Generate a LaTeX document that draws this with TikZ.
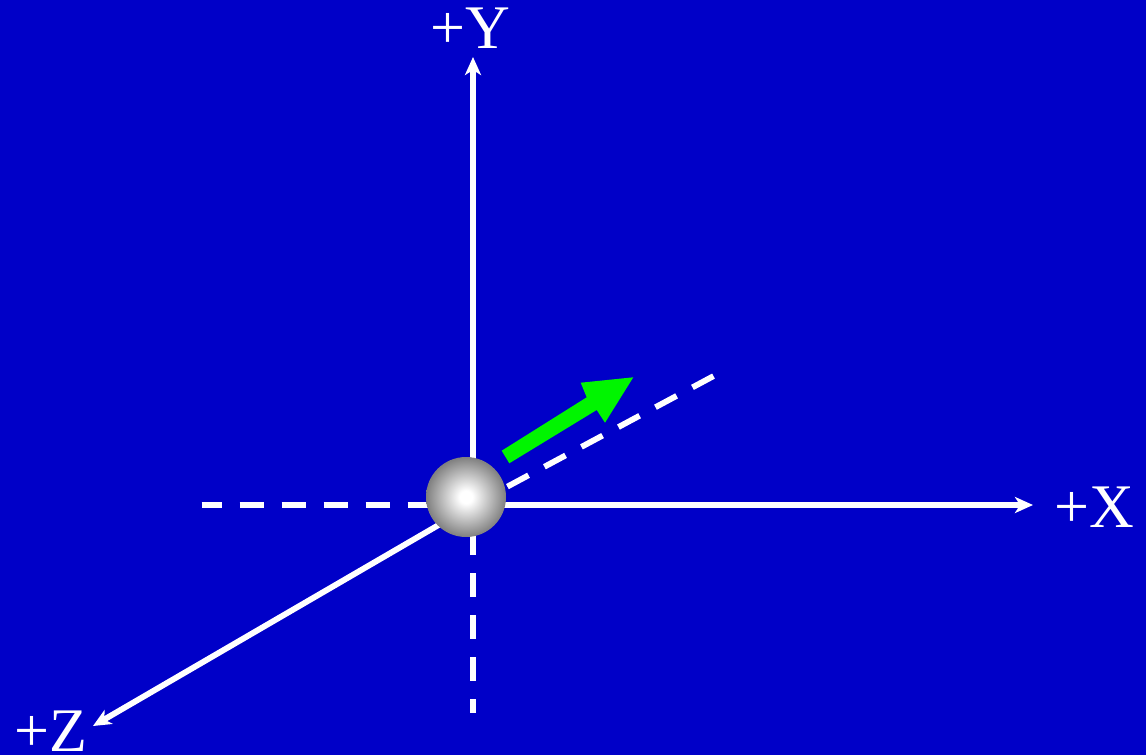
\documentclass[tikz,border=0pt]{standalone}
\usepackage{fontspec}
\setmainfont{Liberation Serif}
\usetikzlibrary{arrows.meta}
\definecolor{bgblue}{RGB}{0,0,200}
\definecolor{arrowgreen}{RGB}{0,245,0}
\pgfdeclareradialshading{sphereshade}{\pgfpoint{0bp}{0bp}}{color(0bp)=(white); color(4bp)=(white); color(25bp)=(black!50); color(50bp)=(black!50)}
\begin{document}
\begin{tikzpicture}[x=1pt,y=-1pt,
  axis/.style={draw=white, line width=5.8pt},
  axisarrow/.style={axis, -{Stealth[length=18pt,width=16pt,inset=5pt]}},
  dashaxis/.style={draw=white, line width=5.8pt, dash pattern=on 24pt off 18pt},
  axislabel/.style={text=white, font=\fontsize{62}{62}\selectfont, inner sep=0pt, anchor=base}]
\fill[bgblue] (0,0) rectangle (1146,755);
\useasboundingbox (0,0) rectangle (1146,755);
\coordinate (O) at (473,505);
\coordinate (Ytip) at (473,57);
\coordinate (Xtip) at (1033,505);
\coordinate (Ztip) at (93,726);
\coordinate (Yneg0) at (473,531.3);
\coordinate (Yneg) at (473,713);
\coordinate (Xneg0) at (201.7,505);
\coordinate (Xneg) at (440,505);
\coordinate (D0) at (507.4,486.6);
\coordinate (D1) at (713.5,376.1);
% axes
\draw[axisarrow] (O) -- (Ytip);
\draw[axisarrow] (O) -- (Xtip);
\draw[axisarrow] (O) -- (Ztip);
\draw[dashaxis] (Yneg0) -- (Yneg);
\draw[dashaxis, dash phase=4pt] (Xneg0) -- (Xneg);
\draw[dashaxis] (D0) -- (D1);
% sphere
\node[circle, minimum size=80pt, inner sep=0pt, shading=sphereshade] (ball) at (466,497) {};
% green arrow
\coordinate (G1) at (501.7,450.7);
\coordinate (G2) at (509.3,463.3);
\coordinate (G3) at (596.7,410);
\coordinate (G4) at (605,422.7);
\coordinate (G5) at (633.3,377.3);
\coordinate (G6) at (580.7,382.7);
\coordinate (G7) at (586.7,397.3);
\fill[arrowgreen] (G1) -- (G2) -- (G3) -- (G4) -- (G5) -- (G6) -- (G7) -- cycle;
% labels
\node[axislabel] (ylab) at (470.5,48) {+Y};
\node[axislabel] (xlab) at (1094.5,527) {+X};
\node[axislabel] (zlab) at (51,751) {+Z};
\end{tikzpicture}
\end{document}
